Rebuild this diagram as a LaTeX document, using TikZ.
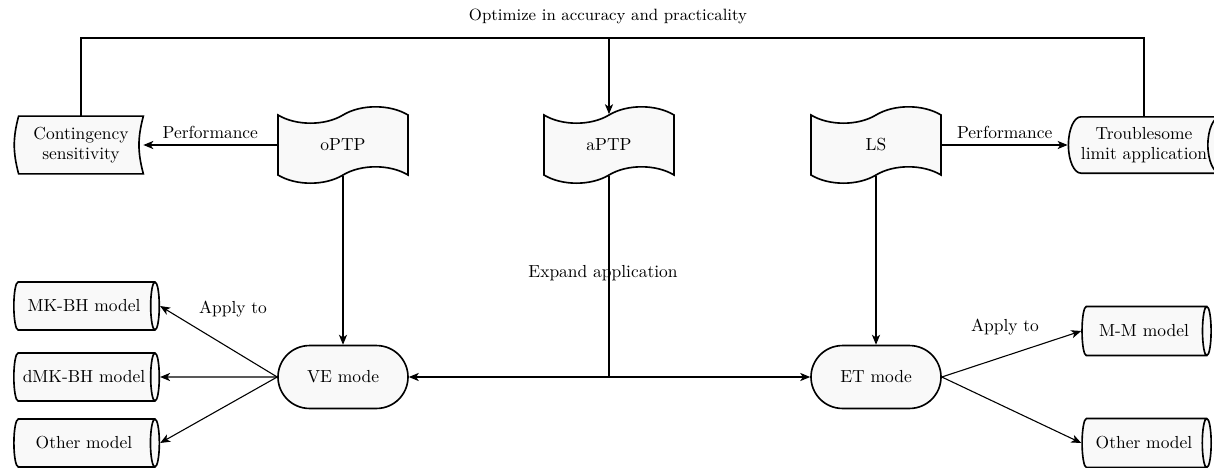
\documentclass[tikz,border=0pt]{standalone}
\usepackage{tikz}
\usetikzlibrary{arrows.meta,shapes.symbols,shapes.geometric,shapes.misc,backgrounds}
\definecolor{boxfill}{RGB}{249,249,249}
\tikzset{
    tape-box/.style = {draw, fill=boxfill, line width=0.9pt, tape, tape bend height=9pt, minimum width=71.5pt, minimum height=42pt, inner sep=0pt},
    mode-box/.style = {draw, fill=boxfill, line width=0.9pt, rounded rectangle, minimum width=71.5pt, minimum height=34.6pt, inner sep=0pt},
    model-box/.style = {draw, fill=boxfill, line width=0.9pt, cylinder, shape border rotate=0, aspect=0.7, minimum width=26.4pt, inner sep=0pt, align=center},
    store-box/.style = {minimum width=68.2pt, minimum height=31.4pt, inner sep=0pt, align=center},
    store-line/.style = {draw, fill=boxfill, line width=0.9pt},
    link/.style = {line width=0.6pt, -{Stealth[length=5.5pt, width=4.5pt, inset=1.5pt]}},
    plain-link/.style = {line width=0.6pt},
}

\begin{document}
\begin{tikzpicture}[x=0.55pt, y=-0.55pt, font=\fontsize{9.6pt}{11.2pt}\selectfont]
\path[use as bounding box, clip] (0,0) rectangle (1214,468);

% sources
\node[tape-box] (optp) at (343,145) {oPTP};
\node[tape-box] (aptp) at (609,145) {aPTP};
\node[tape-box] (ls) at (876,145) {LS};

% weaknesses
\node[store-box] (cont) at (81,145) {Contingency\\sensitivity};
\begin{scope}[on background layer]
\path[store-line] (cont.north west) -- (cont.north east) to[bend right=15] (cont.south east)
    -- (cont.south west) to[bend left=15] (cont.north west) -- cycle;
\end{scope}
\node[model-box, minimum width=31pt, minimum height=86pt] (trouble) at (1144,145) {Troublesome\\limit application};

% modes
\node[mode-box] (ve) at (343,377) {VE mode};
\node[mode-box] (et) at (876,377) {ET mode};

% models
\node[model-box, minimum height=80pt] (mkbh) at (84,306) {MK-BH model};
\node[model-box, minimum height=80pt] (dmkbh) at (84,377) {dMK-BH model};
\node[model-box, minimum height=80pt] (other-l) at (84,443) {Other model};
\node[model-box, minimum width=27pt, minimum height=71pt] (mm) at (1144,331) {M-M model};
\node[model-box, minimum width=27pt, minimum height=71pt] (other-r) at (1144,443) {Other model};

% feedback loop
\node[font=\fontsize{9pt}{11pt}\selectfont] (title) at (608,16) {Optimize in accuracy and practicality};
\coordinate (top) at (609,38);
\draw[plain-link] (cont.north) |- (top) -| (trouble.north);
\draw[link] (top) -- (aptp.north);

% performance
\draw[link] (optp.west) -- (cont.east) node[midway, above] (perf-l) {Performance};
\draw[link] (ls.east) -- (trouble.west) node[midway, above] (perf-r) {Performance};

% down to the modes
\draw[link] (optp.south) -- (ve.north);
\draw[link] (ls.south) -- (et.north);
\coordinate (split) at (609,377);
\draw[plain-link] (aptp.south) -- (split);
\draw[link] (split) -- (ve.east);
\draw[link] (split) -- (et.west);
\node (expand) at (603,273) {Expand application};

% applications
\draw[link] (ve.west) -- (mkbh.east);
\draw[link] (ve.west) -- (dmkbh.east);
\draw[link] (ve.west) -- (other-l.east);
\node (apply-l) at (233,309) {Apply to};
\draw[link] (et.east) -- (mm.west);
\draw[link] (et.east) -- (other-r.west);
\node (apply-r) at (1005,327) {Apply to};
\end{tikzpicture}
\end{document}
